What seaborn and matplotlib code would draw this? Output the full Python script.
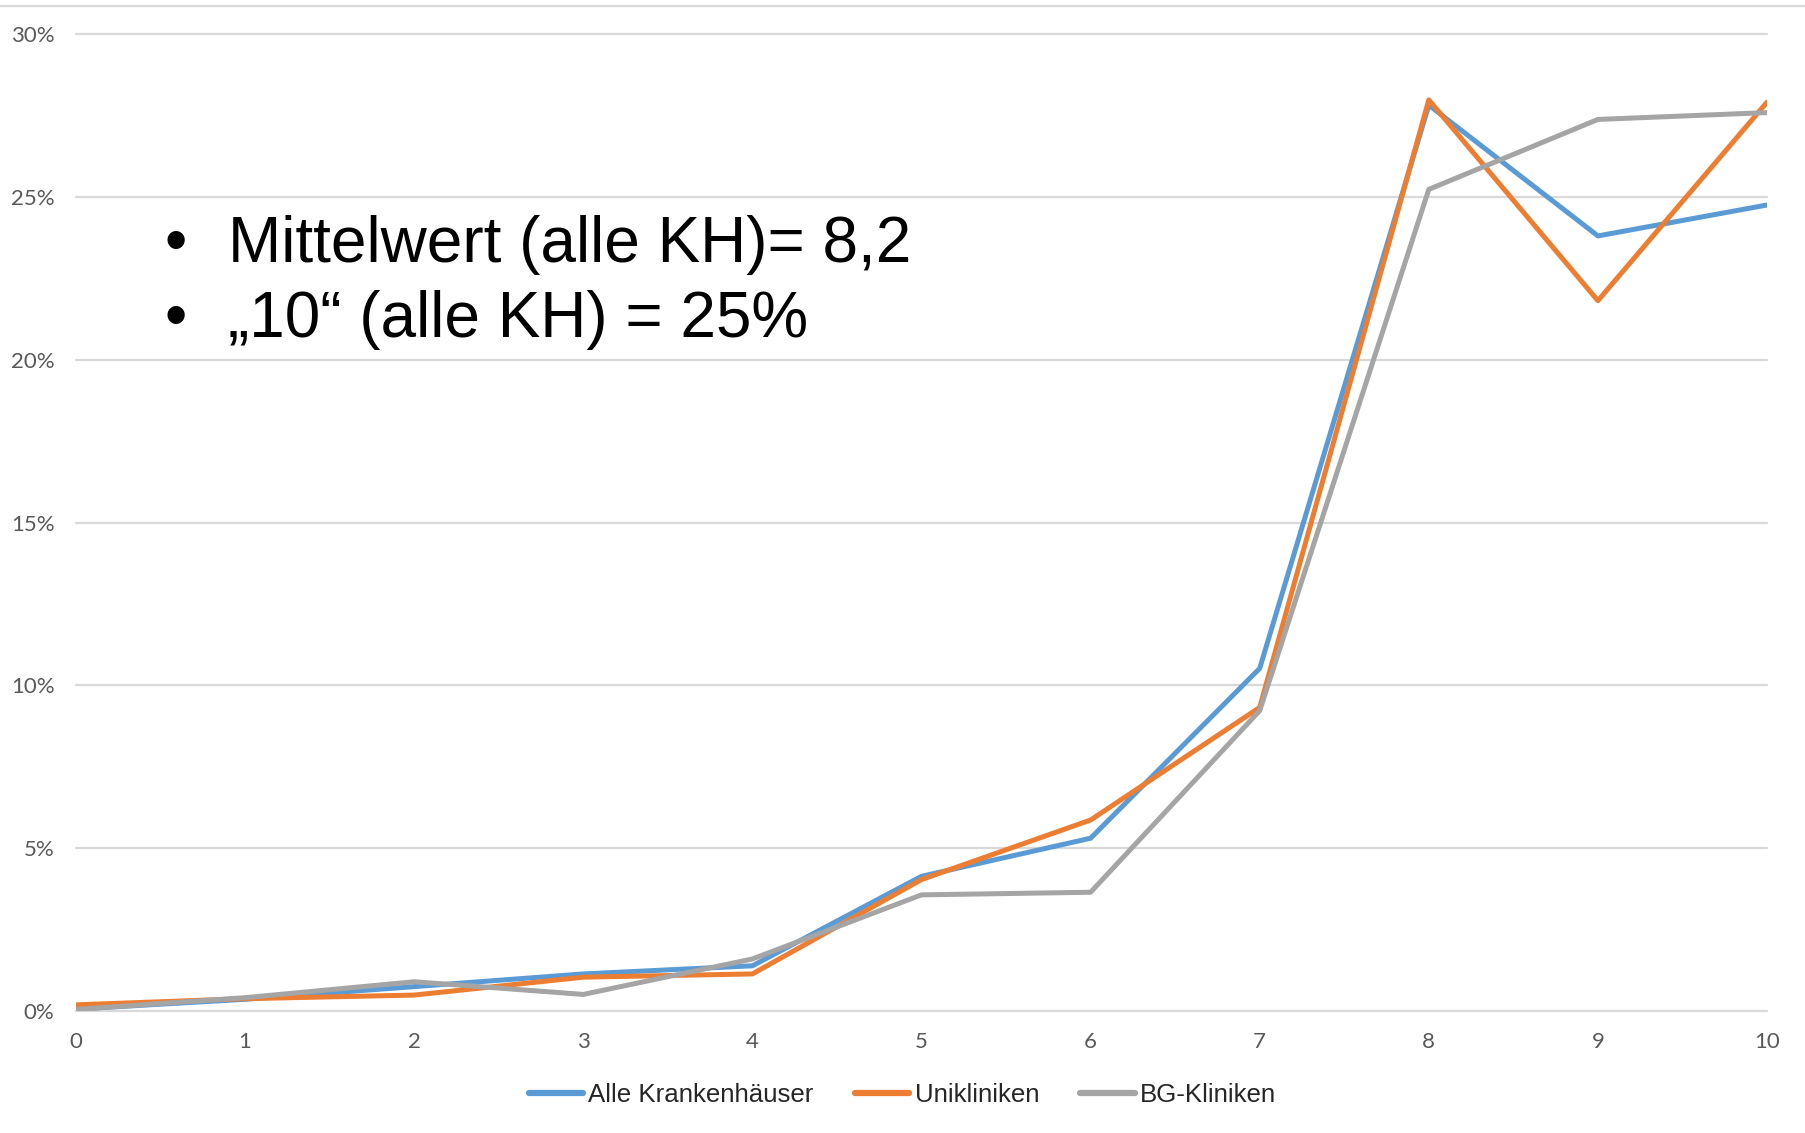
import numpy as np
import pandas as pd
import matplotlib
matplotlib.use("Agg")
import matplotlib.pyplot as plt
import seaborn as sns
from matplotlib.lines import Line2D
from matplotlib.ticker import PercentFormatter

scores = list(range(11))
alle_kh = [0.0005, 0.0035, 0.0074, 0.0113, 0.0138, 0.0413, 0.0530, 0.1052, 0.2783, 0.2381, 0.2476]
unikliniken = [0.0018, 0.0037, 0.0048, 0.0103, 0.0113, 0.0403, 0.0586, 0.0932, 0.2799, 0.2182, 0.2792]
bg_kliniken = [0.0004, 0.0040, 0.0089, 0.0050, 0.0159, 0.0356, 0.0364, 0.0922, 0.2524, 0.2739, 0.2760]
series_names = ["Alle Krankenhäuser", "Unikliniken", "BG-Kliniken"]
colors = ["#5B9BD5", "#ED7D31", "#A5A5A5"]
bullet_lines = ["Mittelwert (alle KH)= 8,2", "\u201e10\u201c (alle KH) = 25%"]

df = pd.DataFrame({
    "score": scores * 3,
    "share": alle_kh + unikliniken + bg_kliniken,
    "group": [series_names[0]] * 11 + [series_names[1]] * 11 + [series_names[2]] * 11,
})

sns.set_style("white")
plt.rcParams["font.family"] = ["Liberation Sans", "DejaVu Sans"]

fig = plt.figure(figsize=(18.05, 11.33), dpi=100)
ax = fig.add_axes([76 / 1805, 1 - 1010.7 / 1133, (1767 - 76) / 1805, (1010.7 - 34.5) / 1133])

sns.lineplot(data=df, x="score", y="share", hue="group", hue_order=series_names,
             palette=colors, linewidth=3.6, ax=ax, legend=False)

ax.set_xlim(0, 10)
ax.set_ylim(0, 0.30)
ax.set_xticks(scores)
ax.set_yticks(np.arange(0, 0.31, 0.05))
ax.yaxis.set_major_formatter(PercentFormatter(1.0, decimals=0))
ax.set_xlabel("")
ax.set_ylabel("")
for s in ax.spines.values():
    s.set_visible(False)
ax.grid(axis="y", color="#d9d9d9", linewidth=1.6)
ax.grid(axis="x", visible=False)
ax.set_axisbelow(True)
for gl in ax.get_ygridlines():
    gl.set_clip_on(False)
ax.tick_params(axis="both", length=0, labelsize=16, labelcolor="#595959")
ax.tick_params(axis="y", pad=15.5)
ax.tick_params(axis="x", pad=15)
for lab in ax.get_xticklabels() + ax.get_yticklabels():
    lab.set_family(["Lato", "DejaVu Sans"])

# obere Linie des Folienrahmens
fig.add_artist(Line2D([0, 1], [1 - 6 / 1133, 1 - 6 / 1133], color="#d9d9d9", linewidth=1.6))

# Stichpunkte
for i, txt in enumerate(bullet_lines):
    yb = 1 - (262 + i * 75) / 1133
    fig.text(176 / 1805, yb, "\u2022", fontsize=46, ha="center", va="baseline", color="black")
    fig.text(228 / 1805, yb, txt, fontsize=46, ha="left", va="baseline", color="black")

handles = [Line2D([0], [0], color=c, linewidth=4.5, solid_capstyle="round") for c in colors]
fig.legend(handles, series_names, loc="center", bbox_to_anchor=(0.5, 1 - 1095 / 1133),
           ncol=3, frameon=False, fontsize=18.6, handlelength=2.1, handletextpad=0.2,
           columnspacing=1.6)

fig.savefig("out.png", dpi=100)
